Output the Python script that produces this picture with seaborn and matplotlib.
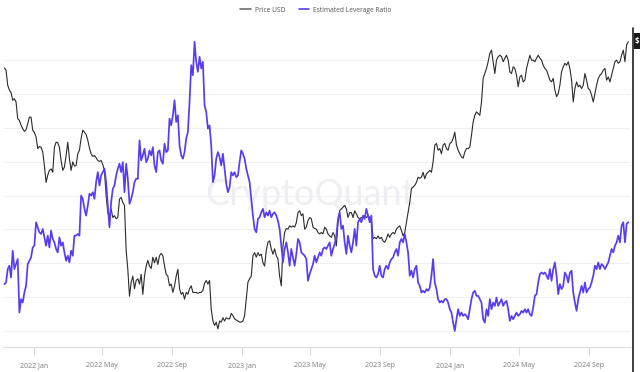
import numpy as np
import pandas as pd
import matplotlib
matplotlib.use("Agg")
import matplotlib.pyplot as plt
import seaborn as sns
from matplotlib.lines import Line2D
from matplotlib.patches import Rectangle

# ---------------- data ----------------
start_date = "2021-11-10"
end_date = "2024-11-09"

price_usd = [
    # Nov 2021 - early May 2022
    66100, 65300, 60100, 58500, 57700, 55300, 55800, 54800, 50000, 49500,
    48200, 47300, 46600, 47000, 48600, 50400, 50400, 46900, 46300, 45200,
    42400, 42900, 42700, 41600, 38600, 35200, 36600, 37600, 37900, 37200,
    42700, 43900, 43800, 42700, 39700, 37600, 38300, 40800, 43900, 40100,
    37600, 39400, 38500, 38600, 41200, 42000, 44800, 46900, 46400, 45800,
    44400, 42500, 41200, 40600, 40800, 40300, 39700, 39500, 39700, 38800,
    # May 2022 - Nov 2022
    37600, 32700, 29800, 29000, 30400, 29000, 29300, 28800, 29000, 32100,
    32400, 31500, 31000, 24200, 21800, 18800, 20300, 21000, 19600, 20500,
    20700, 20100, 21200, 19000, 21000, 22200, 22900, 22200, 21900, 23300,
    22600, 23300, 22400, 23500, 23800, 23500, 22200, 21200, 21000, 19900,
    20100, 19200, 19900, 21000, 21800, 19600, 19000, 19200, 18500, 19200,
    19000, 19600, 19900, 19200, 19200, 19200, 19100, 19200, 19200, 19400,
    20200, 20500, 20100,
    # Nov 2022 - Jun 2023
    20500, 17500, 16400, 16000, 16300, 15700, 16400, 16300, 16700, 16400,
    16700, 16600, 16600, 17100, 16900, 16600, 16500, 16400, 16300, 16300,
    16400, 16900, 18500, 20300, 20700, 21000, 23500, 23900, 23300, 23900,
    23500, 23700, 22600, 22200, 24200, 25300, 25500, 24400, 23700, 24400,
    23500, 23100, 21000, 19900, 24800, 26700, 27300, 27200, 27700, 27500,
    27700, 27500, 28200, 29800, 30100, 29300, 29600, 27200, 27500, 28500,
    29000, 28800, 27500,
    # Jun 2023 - Nov 2023
    27300, 27200, 26700, 26500, 26700, 26500, 27500, 27200, 26500, 26200,
    26000, 26700, 26200, 24800, 28200, 30100, 30400, 30700, 31000, 30400,
    29000, 29800, 29800, 29000, 30100, 29600, 29000, 28800, 29000, 29000,
    29300, 29000, 29300, 29000, 28800, 25800, 26000, 25800, 26200, 25800,
    26000, 25500, 25300, 25800, 26500, 26000, 26500, 26700, 26500, 27200,
    27500, 27700, 27000, 26200, 26700, 28200, 29800, 31500, 34000, 34300,
    34600, 35200, 36200,
    # Nov 2023 - May 2024
    36000, 36200, 37200, 35900, 36900, 37200, 37600, 37200, 39400, 43200,
    43600, 42000, 42400, 41200, 43200, 43600, 42400, 42000, 43600, 43900,
    44800, 46400, 43200, 42000, 41200, 40500, 40200, 41600, 42400, 42400,
    42700, 45600, 49100, 50900, 51900, 51400, 50900, 54800, 62400, 64100,
    65900, 68400, 71600, 72900, 68400, 64100, 69000, 70300, 70900, 70300,
    68400, 69700, 70900, 69000, 64700, 64100, 66500, 65900, 63500, 59600,
    62900, 63500, 61200,
    # May 2024 - Nov 2024
    61800, 65900, 68400, 70900, 69000, 69000, 68400, 69700, 70900, 69700,
    69000, 67100, 65900, 65300, 63500, 61800, 61200, 62400, 58500, 56400,
    57400, 60100, 64700, 66500, 67800, 67100, 68400, 65900, 61800, 54800,
    59000, 61200, 59600, 60100, 59000, 60100, 64100, 61800, 59000, 58500,
    56900, 54800, 57400, 60100, 62400, 63500, 64100, 65300, 65900, 61800,
    62900, 61200, 63500, 65900, 68400, 69000, 67800, 68400, 70900, 72900,
    68400, 75000, 76400,
]

leverage_ratio = [
    0.1467, 0.1483, 0.1617, 0.165, 0.1533, 0.180, 0.1617, 0.1667, 0.1717, 0.1183,
    0.1317, 0.1283, 0.1383, 0.145, 0.1667, 0.170, 0.1733, 0.1833, 0.185, 0.2083,
    0.2033, 0.1983, 0.1967, 0.2017, 0.1933, 0.185, 0.195, 0.1833, 0.200, 0.1917,
    0.1883, 0.1817, 0.1783, 0.1933, 0.185, 0.1883, 0.1783, 0.170, 0.175, 0.1683,
    0.180, 0.175, 0.195, 0.195, 0.1967, 0.195, 0.235, 0.2317, 0.2217, 0.215,
    0.225, 0.2367, 0.235, 0.2383, 0.2317, 0.2483, 0.2583, 0.245, 0.255, 0.2583,
    0.2617, 0.2483, 0.225, 0.2033, 0.2283, 0.2417, 0.245, 0.255, 0.2617, 0.2667,
    0.2583, 0.2683, 0.2383, 0.2667, 0.2517, 0.2267, 0.2317, 0.2383, 0.2483, 0.2517,
    0.2517, 0.290, 0.270, 0.275, 0.2817, 0.2683, 0.2717, 0.280, 0.275, 0.2833,
    0.265, 0.2583, 0.2783, 0.280, 0.270, 0.2667, 0.2867, 0.2783, 0.280, 0.3117,
    0.305, 0.315, 0.330, 0.3083, 0.315, 0.285, 0.275, 0.2717, 0.2783, 0.2917,
    0.2983, 0.3283, 0.365, 0.355, 0.3883, 0.3683, 0.3583, 0.3733, 0.3617, 0.3683,
    0.325, 0.3183, 0.3017,
    0.305, 0.285, 0.2483, 0.255, 0.2717, 0.2783, 0.2733, 0.265, 0.2767, 0.2617,
    0.2467, 0.2383, 0.2433, 0.2583, 0.255, 0.2583, 0.2533, 0.255, 0.2683, 0.280,
    0.2767, 0.2717, 0.2617, 0.255, 0.2483, 0.2317, 0.215, 0.2017, 0.1983, 0.2117,
    0.2133, 0.2183, 0.2217, 0.2133, 0.2183, 0.215, 0.220, 0.2133, 0.2167, 0.2183,
    0.215, 0.210, 0.2017, 0.185, 0.1683, 0.1817, 0.1883, 0.1783, 0.165, 0.1817,
    0.1733, 0.165, 0.1767, 0.1917, 0.1883, 0.1783, 0.1767, 0.175, 0.1717, 0.150,
    0.1567, 0.1617, 0.1667,
    0.175, 0.1683, 0.1733, 0.1783, 0.175, 0.1817, 0.1833, 0.1817, 0.185, 0.1883,
    0.175, 0.1817, 0.1867, 0.195, 0.2117, 0.2183, 0.2017, 0.205, 0.1883, 0.1767,
    0.195, 0.185, 0.1783, 0.1883, 0.2017, 0.185, 0.2083, 0.2117, 0.2083, 0.215,
    0.2117, 0.2217, 0.215, 0.2083, 0.215, 0.1617, 0.155, 0.1533, 0.1567, 0.165,
    0.155, 0.1533, 0.1617, 0.165, 0.1617, 0.1683, 0.1717, 0.1733, 0.1783, 0.1817,
    0.175, 0.1883, 0.1917, 0.1883, 0.1967, 0.1883, 0.1783, 0.155, 0.160, 0.1533,
    0.1617, 0.165, 0.1483,
    0.145, 0.1383, 0.140, 0.1383, 0.1417, 0.140, 0.1433, 0.155, 0.1717, 0.1483,
    0.1417, 0.1317, 0.1283, 0.130, 0.1283, 0.1317, 0.1317, 0.1283, 0.1217, 0.1183,
    0.1083, 0.100, 0.1117, 0.1217, 0.115, 0.1183, 0.115, 0.1167, 0.115, 0.1117,
    0.1217, 0.1317, 0.1383, 0.140, 0.135, 0.135, 0.1317, 0.1283, 0.1117, 0.1083,
    0.1217, 0.115, 0.1317, 0.1217, 0.1283, 0.125, 0.1333, 0.125, 0.1283, 0.1317,
    0.125, 0.1283, 0.130, 0.1217, 0.110, 0.115, 0.1117, 0.115, 0.1183, 0.115,
    0.1167, 0.120, 0.1183,
    0.1217, 0.1183, 0.1217, 0.1167, 0.115, 0.1233, 0.135, 0.1367, 0.1483, 0.1567,
    0.1583, 0.1567, 0.1583, 0.155, 0.1517, 0.1617, 0.150, 0.1617, 0.1683, 0.155,
    0.1367, 0.1467, 0.1417, 0.145, 0.1583, 0.155, 0.1483, 0.1583, 0.160, 0.1383,
    0.1283, 0.120, 0.1317, 0.1383, 0.145, 0.1383, 0.1483, 0.1383, 0.1417, 0.1433,
    0.1483, 0.155, 0.165, 0.1617, 0.1683, 0.1617, 0.1667, 0.165, 0.1617, 0.165,
    0.1683, 0.175, 0.1817, 0.1783, 0.185, 0.1883, 0.195, 0.1883, 0.205, 0.2083,
    0.1883, 0.2067, 0.2083,
]

tick_dates = ["2022-01-01", "2022-05-01", "2022-09-01", "2023-01-01", "2023-05-01",
              "2023-09-01", "2024-01-01", "2024-05-01", "2024-09-01"]
tick_labels = ["2022 Jan", "2022 May", "2022 Sep", "2023 Jan", "2023 May",
               "2023 Sep", "2024 Jan", "2024 May", "2024 Sep"]
series_names = ["Price USD", "Estimated Leverage Ratio"]

# ---------------- styling ----------------
sns.set_theme(style="white")
plt.rcParams["font.family"] = ["Open Sans", "DejaVu Sans"]

PRICE_COLOR = "#2b2b2b"
LEV_COLOR = "#5a3cf0"
GRID_COLOR = "#f0f0f0"

W, H = 640, 372
fig = plt.figure(figsize=(W / 100, H / 100), dpi=100)
fig.patch.set_facecolor("white")

ax_l, ax_r, ax_t, ax_b = 3, 630, 26, 347
ax = fig.add_axes([ax_l / W, 1 - ax_b / H, (ax_r - ax_l) / W, (ax_b - ax_t) / H])
ax2 = ax.twinx()

dates = pd.date_range(start_date, end_date, periods=len(price_usd))
df = pd.DataFrame({"date": dates, "price": price_usd, "leverage": leverage_ratio})

LEV_LIM = (0.084, 0.404)

# horizontal grid lines, drawn beneath both series (positions on the leverage scale)
grid_vals = [0.100 + 0.03375 * i for i in range(9)]
for gv in grid_vals:
    f = (gv - LEV_LIM[0]) / (LEV_LIM[1] - LEV_LIM[0])
    ax.plot([0, 1], [f, f], transform=ax.transAxes, color=GRID_COLOR,
            linewidth=0.8, zorder=0.4)

# watermark
ax.text(0.49, 0.475, "CryptoQuant", transform=ax.transAxes, ha="center", va="center",
        fontsize=26, color="#eeeef3", family=["Lato", "DejaVu Sans"], zorder=0.5)

sns.lineplot(data=df, x="date", y="price", ax=ax, color=PRICE_COLOR, linewidth=0.8, zorder=3)
ax.set_yscale("log")
ax.set_ylim(14213, 83267)

sns.lineplot(data=df, x="date", y="leverage", ax=ax2, color=LEV_COLOR, linewidth=1.25, zorder=3)
ax2.set_ylim(*LEV_LIM)

t0 = pd.Timestamp("2022-01-01")
ax.set_xlim(t0 - pd.Timedelta(days=54.4), t0 + pd.Timedelta(days=1046))

ax2.set_yticks([])
ax2.tick_params(axis="y", right=False, labelright=False, length=0)
ax.tick_params(axis="y", left=False, labelleft=False, length=0, which="both")
ax.yaxis.set_minor_locator(matplotlib.ticker.NullLocator())
ax.set_ylabel("")
ax2.set_ylabel("")
ax.set_xlabel("")
ax.grid(False)
ax2.grid(False)

ax.set_xticks(pd.to_datetime(tick_dates))
ax.set_xticklabels(tick_labels)
ax.tick_params(axis="x", bottom=True, length=6, width=0.8, color="#dcdcdc",
               labelsize=5, labelcolor="#7a7a7a", pad=5)

for a in (ax, ax2):
    for s in ("top", "left", "right", "bottom"):
        a.spines[s].set_visible(False)
ax.spines["bottom"].set_visible(True)
ax.spines["bottom"].set_color("#dedede")
ax.spines["bottom"].set_linewidth(0.8)
ax.patch.set_alpha(0)

# right-hand axis line and cut-off value tag
fig.add_artist(Line2D([633 / W, 633 / W], [1 - 28 / H, 0], color="#1e1e1e", linewidth=1.2))
fig.add_artist(Rectangle((634 / W, 1 - 49 / H), 8 / W, 16 / H, color="#1a1a1a", linewidth=0))
fig.text(635 / W, 1 - 41 / H, "$", color="white", fontsize=5.5, fontweight="bold",
         ha="left", va="center")

# legend
handles = [Line2D([], [], color="#6e6e6e", linewidth=1.2),
           Line2D([], [], color=LEV_COLOR, linewidth=1.2)]
fig.legend(handles, series_names, loc="center", bbox_to_anchor=(316 / W, 1 - 10 / H),
           ncol=2, frameon=False, fontsize=4.8, handlelength=1.6, handletextpad=0.6,
           columnspacing=2.0, labelcolor="#555555")

fig.savefig("out.png", dpi=100, facecolor="white")
